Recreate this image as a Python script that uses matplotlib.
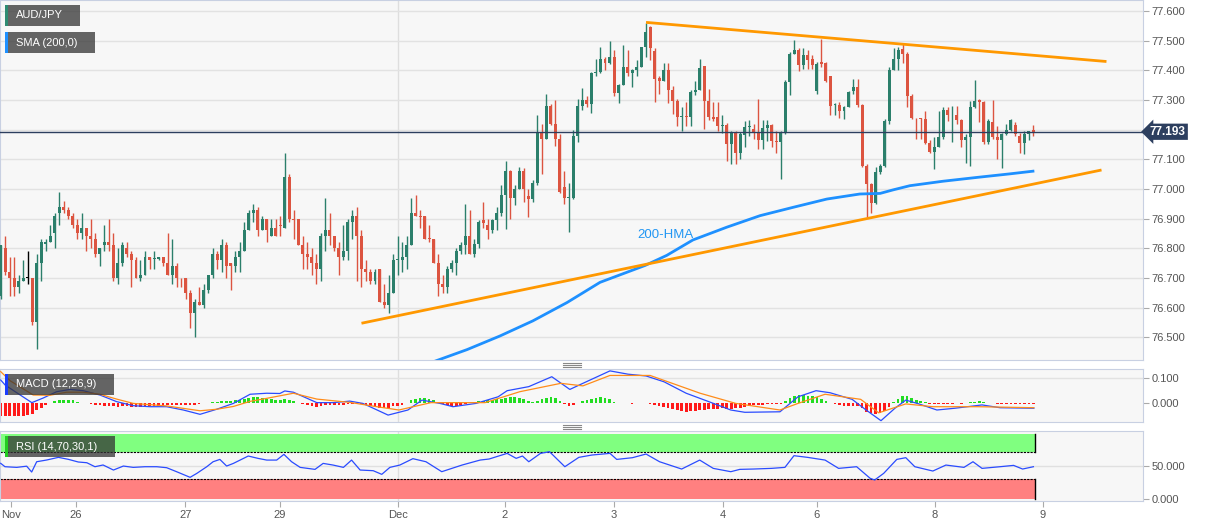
import matplotlib
matplotlib.use('Agg')
import matplotlib.pyplot as plt
from matplotlib.patches import Rectangle
from matplotlib.lines import Line2D
import numpy as np

plt.rcParams['font.family'] = ['Liberation Sans', 'DejaVu Sans']

# hourly AUD/JPY candles
opens = [
76.64,76.80,76.72,76.70,76.67,76.69,76.70,76.70,76.55,76.75,
76.815,76.82,76.85,76.92,76.94,76.93,76.91,76.88,76.85,76.87,
76.84,76.83,76.78,76.81,76.82,76.81,76.70,76.75,76.80,76.78,
76.76,76.70,76.71,76.77,76.765,76.765,76.77,76.75,76.71,76.74,
76.70,76.70,76.65,76.58,76.62,76.61,76.66,76.71,76.78,76.76,
76.81,76.75,76.74,76.77,76.79,76.86,76.92,76.93,76.86,76.90,
76.84,76.87,76.88,76.87,77.04,76.90,76.90,76.81,76.78,76.77,
76.75,76.73,76.84,76.86,76.84,76.80,76.77,76.79,76.89,76.91,
76.84,76.73,76.72,76.69,76.73,76.62,76.61,76.65,76.76,76.76,
76.77,76.81,76.92,76.91,76.91,76.835,76.83,76.75,76.68,76.67,
76.73,76.75,76.79,76.81,76.84,76.78,76.815,76.895,76.88,76.86,
76.895,76.92,76.98,77.06,76.97,77.00,77.06,76.975,76.965,77.02,
77.19,77.17,77.28,77.22,77.17,77.005,76.97,76.97,77.18,77.28,
77.30,77.285,77.39,77.395,77.44,77.425,77.445,77.325,77.35,77.41,
77.39,77.40,77.41,77.48,77.545,77.465,77.375,77.365,77.40,77.335,
77.296,77.244,77.246,77.244,77.327,77.335,77.414,77.298,77.244,77.244,
77.214,77.217,77.151,77.191,77.120,77.183,77.208,77.202,77.188,77.165,
77.206,77.216,77.163,77.160,77.188,77.360,77.456,77.468,77.417,77.451,
77.440,77.33,77.43,77.425,77.38,77.284,77.284,77.264,77.275,77.331,
77.343,77.284,77.079,77.017,76.952,77.056,77.079,77.23,77.40,77.44,
77.472,77.455,77.315,77.24,77.24,77.236,77.154,77.124,77.143,77.175,
77.267,77.248,77.248,77.231,77.166,77.175,77.276,77.30,77.292,77.157,
77.225,77.175,77.164,77.184,77.20,77.215,77.178,77.155,77.186,77.20,
]
highs = [
76.81,76.84,76.77,76.77,76.71,76.76,76.79,76.70,76.78,76.83,
76.83,76.88,76.92,76.99,76.96,76.94,76.92,76.90,76.92,76.87,
76.90,76.85,76.80,76.88,76.90,76.85,76.80,76.82,76.82,76.79,
76.77,76.76,76.79,76.77,76.79,76.77,76.77,76.85,76.83,76.75,
76.70,76.70,76.66,76.63,76.67,76.68,76.71,76.80,76.79,76.83,
76.82,76.75,76.79,76.82,76.89,76.93,76.95,76.94,76.91,76.90,
76.90,76.90,76.91,77.12,77.05,76.93,76.90,76.84,76.82,76.80,
76.78,76.85,76.97,76.92,76.84,76.82,76.88,76.90,76.93,76.94,
76.86,76.76,76.73,76.73,76.73,76.68,76.71,76.78,76.84,76.82,
76.84,76.97,76.98,76.93,76.91,76.88,76.83,76.78,76.71,76.74,
76.76,76.80,76.82,76.95,76.93,76.83,76.895,76.955,76.90,76.90,
76.94,77.015,77.095,77.065,77.015,77.075,77.07,77.00,77.03,77.25,
77.22,77.32,77.285,77.30,77.185,77.06,77.02,77.20,77.305,77.34,
77.315,77.395,77.44,77.48,77.445,77.50,77.47,77.355,77.485,77.47,
77.405,77.435,77.48,77.56,77.55,77.475,77.38,77.425,77.425,77.348,
77.304,77.278,77.293,77.333,77.363,77.437,77.414,77.338,77.293,77.293,
77.248,77.221,77.194,77.197,77.191,77.228,77.231,77.219,77.302,77.233,
77.231,77.219,77.197,77.197,77.366,77.462,77.502,77.474,77.474,77.468,
77.451,77.43,77.505,77.43,77.38,77.29,77.295,77.28,77.33,77.37,
77.37,77.286,77.085,77.02,77.073,77.085,77.236,77.41,77.475,77.48,
77.489,77.461,77.32,77.24,77.24,77.264,77.165,77.177,77.264,77.276,
77.276,77.28,77.28,77.236,77.184,77.296,77.368,77.303,77.298,77.236,
77.30,77.214,77.189,77.22,77.236,77.225,77.189,77.195,77.197,77.217,
]
lows = [
76.63,76.71,76.64,76.64,76.65,76.69,76.68,76.54,76.46,76.69,
76.79,76.82,76.80,76.88,76.92,76.90,76.87,76.83,76.83,76.79,
76.80,76.77,76.74,76.79,76.79,76.69,76.68,76.74,76.77,76.67,
76.70,76.69,76.71,76.73,76.73,76.76,76.74,76.71,76.68,76.67,
76.67,76.63,76.53,76.50,76.61,76.60,76.65,76.70,76.73,76.72,
76.70,76.66,76.72,76.72,76.79,76.86,76.89,76.84,76.86,76.82,
76.84,76.84,76.84,76.87,76.89,76.83,76.81,76.73,76.73,76.71,
76.68,76.69,76.79,76.81,76.79,76.71,76.76,76.76,76.83,76.69,
76.67,76.69,76.68,76.68,76.62,76.60,76.58,76.65,76.71,76.72,
76.73,76.81,76.91,76.87,76.83,76.82,76.75,76.64,76.65,76.65,
76.72,76.71,76.78,76.78,76.78,76.77,76.80,76.87,76.83,76.85,
76.86,76.91,76.865,76.90,76.945,77.00,76.955,76.905,76.955,77.015,
77.05,77.17,77.215,77.145,76.985,76.95,76.855,76.965,77.16,77.265,
77.275,77.255,77.38,77.39,77.40,77.42,77.315,77.29,77.35,77.38,
77.345,77.38,77.41,77.445,77.435,77.295,77.32,77.365,77.29,77.253,
77.211,77.196,77.211,77.211,77.318,77.333,77.202,77.233,77.230,77.197,
77.188,77.094,77.084,77.084,77.102,77.140,77.179,77.168,77.134,77.134,
77.162,77.140,77.122,77.034,77.185,77.317,77.454,77.398,77.406,77.406,
77.406,77.32,77.41,77.36,77.25,77.25,77.24,77.235,77.275,77.32,
77.275,77.073,76.905,76.918,76.95,77.05,77.073,77.22,77.40,77.40,
77.425,77.275,77.236,77.167,77.167,77.152,77.12,77.067,77.14,77.17,
77.23,77.16,77.219,77.141,77.087,77.077,77.274,77.227,77.152,77.152,
77.17,77.10,77.07,77.182,77.197,77.178,77.122,77.119,77.164,77.18,
]
closes = [
76.81,76.72,76.70,76.67,76.69,76.70,76.70,76.55,76.75,76.82,
76.822,76.84,76.91,76.94,76.93,76.91,76.88,76.85,76.87,76.84,
76.83,76.78,76.80,76.82,76.81,76.70,76.75,76.81,76.78,76.76,
76.70,76.71,76.77,76.76,76.768,76.77,76.75,76.71,76.74,76.70,
76.698,76.65,76.58,76.62,76.61,76.66,76.71,76.78,76.76,76.81,
76.74,76.74,76.77,76.79,76.86,76.92,76.93,76.86,76.90,76.86,
76.87,76.84,76.875,77.04,76.90,76.895,76.81,76.78,76.77,76.75,
76.73,76.84,76.86,76.84,76.80,76.77,76.79,76.89,76.91,76.84,
76.73,76.72,76.69,76.72,76.62,76.61,76.65,76.76,76.765,76.77,
76.81,76.92,76.91,76.905,76.83,76.83,76.75,76.68,76.67,76.73,
76.75,76.79,76.81,76.84,76.78,76.815,76.89,76.884,76.86,76.895,
76.92,76.98,77.06,76.97,77.00,77.06,77.00,76.965,77.02,77.19,
77.17,77.28,77.22,77.17,76.99,76.97,76.972,77.18,77.28,77.30,
77.285,77.39,77.395,77.44,77.425,77.445,77.325,77.35,77.41,77.39,
77.40,77.41,77.48,77.53,77.475,77.37,77.365,77.40,77.335,77.296,
77.244,77.246,77.244,77.327,77.335,77.409,77.298,77.242,77.236,77.214,
77.216,77.151,77.191,77.120,77.185,77.208,77.214,77.188,77.165,77.206,
77.216,77.163,77.160,77.188,77.360,77.456,77.468,77.417,77.451,77.436,
77.417,77.42,77.42,77.365,77.28,77.286,77.264,77.275,77.326,77.343,
77.284,77.079,77.017,76.952,77.056,77.079,77.23,77.40,77.44,77.47,
77.455,77.315,77.24,77.238,77.235,77.154,77.124,77.143,77.175,77.267,
77.248,77.25,77.231,77.166,77.175,77.276,77.298,77.292,77.157,77.23,
77.175,77.164,77.184,77.20,77.231,77.184,77.155,77.186,77.194,77.193,
]

# 200-HMA (bar index, price)
hma_x = [93.0,95.2,103.4,110.7,118.0,125.6,132.9,142.9,147.7,153.5,161.0,
         168.4,175.7,183.2,190.5,195.0,197.9,201.6,208.9,216.5,223.8,228.9]
hma_y = [76.39,76.413,76.458,76.504,76.555,76.617,76.685,76.742,76.776,76.828,76.871,
         76.910,76.938,76.966,76.983,76.985,76.997,77.011,77.026,77.039,77.051,77.060]

# trend lines
res_x = [143.1, 245.2]
res_y = [77.562, 77.430]
sup_x = [80.0, 244.1]
sup_y = [76.547, 77.064]

# MACD histogram (x 0.001), one per bar
hist = [
-50,-50,-50,-50,-48,-48,-45,-40,-26,-20,
-5,3,8,12,15,14,12,6,3,1,
-2,-6,-8,-9,-10,-12,-13,-12,-12,-13,
-14,-13,-12,-10,-10,-9,-9,-8,-8,-7,
-6,-5,-6,-6,-3,1,3,5,7,9,
10,11,12,15,18,22,25,24,20,18,
17,15,12,18,14,8,2,-4,-8,-12,
-14,-12,-8,-6,-6,-7,-6,-4,-2,1,
-3,-8,-12,-16,-18,-20,-17,-12,-10,-5,
2,12,18,20,20,18,12,4,-4,-8,
-10,-10,-7,-2,3,5,8,10,12,14,
16,18,22,24,24,22,18,10,6,10,
18,22,24,22,8,-4,-12,-5,3,10,
14,18,22,24,22,18,6,3,2,1,
-1,1,2,1,-2,-6,-10,-14,-18,-22,
-26,-30,-32,-30,-28,-26,-25,-24,-24,-22,
-20,-22,-22,-20,-18,-14,-10,-8,-6,-5,
-4,-4,-3,-2,10,22,28,32,32,30,
28,26,18,10,2,-4,-8,-10,-10,-10,
-12,-20,-32,-38,-40,-36,-28,-16,5,18,
28,30,22,14,8,4,-2,-4,-4,-3,
-2,-1,1,-2,1,4,7,8,6,3,
1,-1,-2,-2,-1,-1,-2,-2,-1,-1,
]

macd_x = [0,1.0,6.9,9.4,12.4,15.4,18.3,22.0,25.7,29.4,33.1,36.8,40.5,44.2,47.9,51.6,
          55.3,59.0,61.9,63.0,64.9,70.1,73.7,77.4,80.3,85.9,90.3,93.4,97.4,100.3,
          105.4,110.3,112.3,117.1,122.2,126.2,129.1,135.1,139.1,143.1,147.1,152.0,
          157.0,161.9,165.0,172.8,176.8,180.8,183.9,188.8,191.9,195.2,198.3,200.7,
          203.6,207.6,211.6,217.6,221.6,229.1]
macd_y = [0.092,0.072,0.003,0.021,0.046,0.055,0.05,0.033,0.007,-0.009,-0.013,-0.013,
          -0.026,-0.043,-0.023,0.0,0.036,0.04,0.039,0.049,0.044,0.003,0.003,0.009,0.0,
          -0.046,-0.026,0.013,0.0,-0.013,0.0,0.026,0.05,0.066,0.105,0.055,0.079,0.128,
          0.115,0.108,0.085,0.04,0.007,-0.026,-0.035,-0.033,0.026,0.05,0.042,0.016,
          -0.026,-0.068,-0.019,0.013,-0.002,-0.026,-0.019,-0.006,-0.017,-0.019]
sig_x = [0,2.1,7.2,10.9,14.6,18.3,22.0,25.7,29.4,36.8,44.2,47.9,51.6,55.3,59.0,64.9,
         70.1,77.4,83.4,88.3,95.4,107.4,115.1,124.2,129.1,135.1,144.0,155.1,163.0,
         172.8,176.8,182.8,190.7,194.7,200.7,206.7,216.7,229.1]
sig_y = [0.125,0.089,0.033,0.032,0.044,0.044,0.036,0.017,0.0,-0.01,-0.029,-0.023,-0.012,
         0.008,0.02,0.04,0.017,0.004,-0.013,-0.026,0.003,0.003,0.046,0.079,0.069,0.11,
         0.11,0.04,0.0,-0.026,0.0,0.036,0.016,-0.037,-0.002,-0.013,-0.013,-0.017]

rsi_x = [0,0.95,3.55,5.76,6.87,7.98,10.2,12.8,15.0,17.2,
         19.1,20.9,22.7,25.0,27.2,29.4,32.0,34.6,36.8,39.0,
         42.0,43.5,45.7,47.1,48.6,50.1,51.6,54.9,57.1,59.0,
         61.2,62.8,64.5,66.4,69.7,71.5,73.7,76.0,77.8,79.7,
         82.6,84.5,86.3,88.5,91.4,94.3,97.8,102.3,106.3,108.3,
         112.3,114.3,115.7,117.1,119.7,121.7,125.1,128.2,131.1,135.1,
         136.6,140.1,143.1,146.1,151.0,155.0,158.0,161.9,163.9,166.9,
         170.9,173.9,175.9,178.9,182.8,185.8,189.8,192.8,193.8,195.8,
         198.7,200.7,202.7,206.7,209.6,213.6,215.6,217.6,221.6,224.6,
         226.6,229.0]
rsi_y = [53.3,48.2,47.2,49,40.2,55.7,58.3,62.3,59.3,55.3,
         54.2,48.2,50.8,43.2,49.2,47.2,48.2,48.2,46.7,40.7,
         32.2,38.2,48.2,55.7,59.2,49.2,53.2,64.3,60.7,58.2,
         58.2,66.8,55.7,47.2,44.2,53.2,50.7,47.2,58.2,43.2,
         42.2,36.7,47.2,50.7,60.3,55.7,40.7,50.7,58.2,59.8,
         68.3,60.8,64.3,55.7,68.3,70.8,48.2,62.3,65.8,68.3,
         59.2,61.8,67.3,55.7,44.7,58.2,45.7,40.7,44.2,44.7,
         45.7,47.2,64.8,62.3,58.2,45.7,48.2,30.7,28.2,38.2,
         59.2,61.8,48.2,41.7,50.7,47.2,55.7,45.7,48.2,50.2,
         44.7,48.2]

price_ticks = [76.5, 76.6, 76.7, 76.8, 76.9, 77.0, 77.1, 77.2, 77.3, 77.4, 77.5, 77.6]
day_pos = [2.3, 16.7, 40.9, 61.9, 88.1, 111.8, 136.0, 160.2, 181.0, 207.2, 231.1]
day_labels = ['Nov', '26', '27', '29', 'Dec', '2', '3', '4', '6', '8', '9']
month_pos = 88.1

GREEN = '#2b7f6b'
RED = '#dc5440'
W, H = 1207, 526

fig = plt.figure(figsize=(W / 100, H / 100), dpi=100)
fig.patch.set_facecolor('white')


def panel(top, bottom):
    return fig.add_axes([0, 1 - bottom / H, 1143 / W, (bottom - top) / H])


ax1 = panel(0, 360)
ax2 = panel(369, 422)
ax3 = panel(431, 500.7)

o = np.array(opens); hi = np.array(highs); lo = np.array(lows); c = np.array(closes)
idx = np.arange(len(c))

for ax in (ax1, ax2, ax3):
    ax.set_facecolor('#f7f7f7')
    ax.set_xlim(-0.155, 253.3)
    for s in ax.spines.values():
        s.set_color('#c8d0e2')
    ax.yaxis.tick_right()
    ax.tick_params(axis='y', length=4, color='#aaaaaa', labelcolor='#555555',
                   labelsize=8, pad=2)
    ax.tick_params(axis='x', bottom=False, labelbottom=False)
    ax.axvline(month_pos, color='#dedede', lw=1, zorder=0)

# --- price panel
ax1.set_ylim(76.423, 77.6375)
ax1.set_yticks(price_ticks)
ax1.set_yticklabels(['%.3f' % v for v in price_ticks])
for v in price_ticks:
    ax1.axhline(v, color='#e2e2e2', lw=1, zorder=0)

cols = np.where(c > o, GREEN, np.where(c < o, RED, 'black'))
ax1.vlines(idx, np.minimum(lo, np.minimum(o, c)), np.maximum(hi, np.maximum(o, c)),
           colors=cols, lw=1, zorder=3)
ax1.bar(idx, np.maximum(np.abs(c - o), 0.003), bottom=np.minimum(o, c), width=0.66,
        color=cols, linewidth=0, zorder=4)

ax1.plot(hma_x, hma_y, color='#1e90ff', lw=2, zorder=5)
ax1.plot(res_x, res_y, color='#ff9800', lw=2, zorder=5, solid_capstyle='butt')
ax1.plot(sup_x, sup_y, color='#ff9800', lw=2, zorder=5, solid_capstyle='butt')
ax1.text(141.1, 76.844, '200-HMA', color='#2196f3', fontsize=9.5, ha='left', va='center')

last = closes[-1]
ax1.axhline(last, color='#2d3f5f', lw=1, zorder=6)
ax1.text(1.006, last, '%.3f' % last, transform=ax1.get_yaxis_transform(),
         ha='left', va='center', color='white', fontweight='bold', fontsize=8.5,
         bbox=dict(boxstyle='larrow,pad=0.18', fc='#2d3f5f', ec='none'), clip_on=False)

# --- MACD panel
ax2.set_ylim(-0.0732, 0.1354)
ax2.set_yticks([0.0, 0.1])
ax2.set_yticklabels(['0.000', '0.100'])
ax2.axhline(0.1, color='#e2e2e2', lw=1, zorder=0)
hv = np.array(hist) / 1000.0
ax2.bar(idx, hv, width=0.6, color=np.where(hv >= 0, '#22dd22', '#ff1a1a'), linewidth=0, zorder=2)
ax2.plot(macd_x, macd_y, color='#2a4bff', lw=0.9, zorder=3)
ax2.plot(sig_x, sig_y, color='#ff8c1a', lw=0.9, zorder=3)

# --- RSI panel
ax3.set_ylim(-3.0, 102.0)
ax3.set_yticks([0, 50])
ax3.set_yticklabels(['0.000', '50.000'])
ax3.axhline(50, color='#e0e0e0', lw=1, zorder=0)
band_end = idx[-1] + 0.3
ax3.add_patch(Rectangle((-0.155, 70), band_end + 0.155, 27.4, fc='#80ff80', ec='none', zorder=1))
ax3.add_patch(Rectangle((-0.155, 0), band_end + 0.155, 30, fc='#ff8080', ec='none', zorder=1))
ax3.plot([-0.155, band_end], [70, 70], color='black', lw=0.8, ls=(0, (2, 1)), zorder=2)
ax3.plot([-0.155, band_end], [30, 30], color='black', lw=0.8, ls=(0, (2, 1)), zorder=2)
ax3.plot([band_end, band_end], [70, 97.4], color='black', lw=1, zorder=2)
ax3.plot([band_end, band_end], [0, 30], color='black', lw=1, zorder=2)
ax3.plot(rsi_x, rsi_y, color='#2a4bff', lw=0.9, zorder=3)

ax3.set_xticks(day_pos)
ax3.set_xticklabels(day_labels)
ax3.tick_params(axis='x', bottom=True, labelbottom=True, length=4, color='#aaaaaa',
                labelcolor='#555555', labelsize=8, pad=3)

# panel resize handles
for yy in (363.3, 365.3, 367.3, 425.0, 427.0, 429.0):
    fig.add_artist(Line2D([563 / W, 581 / W], [1 - yy / H] * 2, color='#888888', lw=0.8))


def tag(x, y, w, h, txt, bar):
    fig.add_artist(Rectangle((x / W, 1 - (y + h) / H), w / W, h / H, transform=fig.transFigure,
                             fc='#333333', alpha=0.75, ec='none', zorder=10))
    fig.add_artist(Rectangle((x / W, 1 - (y + h) / H), 2.5 / W, h / H, transform=fig.transFigure,
                             fc=bar, ec='none', zorder=11))
    fig.text((x + 11) / W, 1 - (y + h / 2) / H, txt, color='white', fontsize=8,
             va='center', ha='left', zorder=12)


tag(5, 5, 75, 21, 'AUD/JPY', '#2e8b72')
tag(5, 32, 90, 21, 'SMA (200,0)', '#1e90ff')
tag(5, 374, 109, 20.5, 'MACD (12,26,9)', '#1a3cff')
tag(5, 436, 110, 21, 'RSI (14,70,30,1)', '#22cc22')

fig.savefig('out.png', dpi=100, facecolor='white')
